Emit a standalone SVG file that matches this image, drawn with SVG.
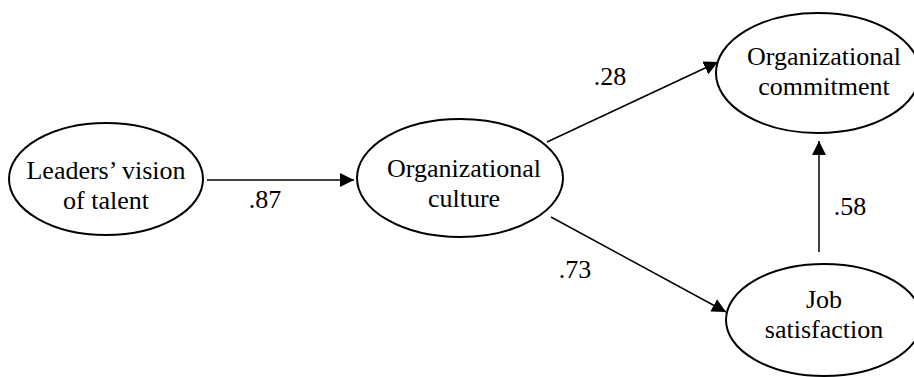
<svg xmlns="http://www.w3.org/2000/svg" width="914" height="377" viewBox="0 0 914 377" font-family="Liberation Serif" font-size="26">
  <defs>
    <marker id="arrow" viewBox="0 0 14 14" refX="14" refY="7" markerWidth="14" markerHeight="14" markerUnits="userSpaceOnUse" orient="auto">
      <path d="M0,0 L14,7 L0,14 Z" fill="#000"/>
    </marker>
  </defs>
  <style>
    text { fill: #000; text-anchor: middle; }
    .node ellipse { fill: #fff; stroke: #000; stroke-width: 2; }
    .edge { stroke: #000; stroke-width: 1.5; fill: none; marker-end: url(#arrow); }
  </style>
  <rect width="914" height="377" fill="#fff"/>

  <g id="connectors">
    <line class="edge" x1="207" y1="180" x2="354" y2="180"/>
    <line class="edge" x1="547" y1="142" x2="718" y2="62"/>
    <line class="edge" x1="551" y1="217" x2="726" y2="312"/>
    <line class="edge" x1="819" y1="252" x2="819" y2="141"/>
  </g>

  <g id="labels">
    <text x="265" y="208">.87</text>
    <text x="610" y="85">.28</text>
    <text x="575" y="278">.73</text>
    <text x="850" y="215">.58</text>
  </g>

  <g id="leaders-vision" class="node">
    <ellipse cx="106" cy="179" rx="97" ry="56"/>
    <text x="106" y="179">Leaders’ vision</text>
    <text x="106" y="209">of talent</text>
  </g>

  <g id="organizational-culture" class="node">
    <ellipse cx="460" cy="178" rx="103" ry="59"/>
    <text x="464" y="177">Organizational</text>
    <text x="464" y="207">culture</text>
  </g>

  <g id="organizational-commitment" class="node">
    <ellipse cx="818" cy="73" rx="102" ry="60"/>
    <text x="824" y="65">Organizational</text>
    <text x="824" y="95">commitment</text>
  </g>

  <g id="job-satisfaction" class="node">
    <ellipse cx="824" cy="320" rx="98" ry="56"/>
    <text x="824" y="308">Job</text>
    <text x="824" y="338">satisfaction</text>
  </g>
</svg>
